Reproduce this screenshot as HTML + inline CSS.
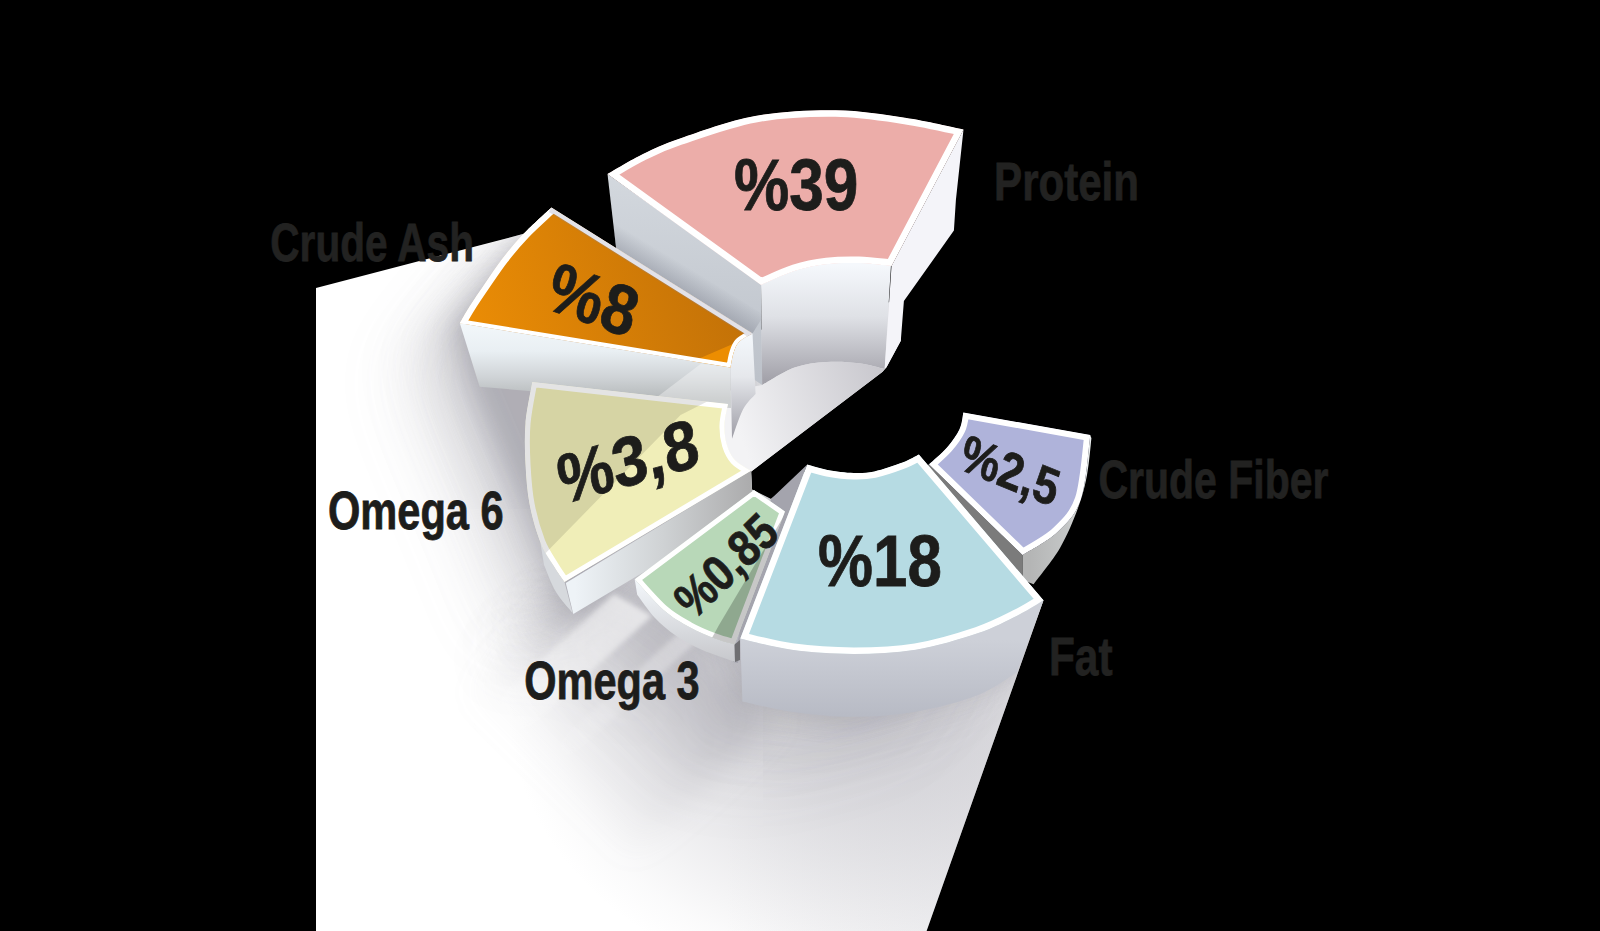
<!DOCTYPE html>
<html><head><meta charset="utf-8"><style>html,body{margin:0;padding:0;background:#000;overflow:hidden}svg{display:block}</style></head>
<body><svg width="1600" height="931" viewBox="0 0 1600 931"><defs><linearGradient id="g_bd" gradientUnits="userSpaceOnUse" x1="316" y1="0" x2="1000" y2="0"><stop offset="0" stop-color="#ffffff"/><stop offset="0.6" stop-color="#ffffff"/><stop offset="1" stop-color="#f0f0f2"/></linearGradient><clipPath id="c_bd"><path d="M316 288 L523.7 233.8 L560 240 L700 330 L760 330 L900 300 L900.8 340.8 L886.5 367.3 L882.6 371.8 L751.2 471.5 L752 489.5 L771 499 L807 470 L900 520 L1020 590 L1043.5 600.3 L926.6 931 L316 931 Z"/></clipPath><filter id="blur1" x="-50%" y="-50%" width="200%" height="200%"><feGaussianBlur stdDeviation="38"/></filter><filter id="blur2" x="-50%" y="-50%" width="200%" height="200%"><feGaussianBlur stdDeviation="12"/></filter><filter id="sr0" x="-50%" y="-50%" width="200%" height="200%"><feGaussianBlur stdDeviation="10"/></filter><filter id="sr1" x="-50%" y="-50%" width="200%" height="200%"><feGaussianBlur stdDeviation="15"/></filter><filter id="sr2" x="-50%" y="-50%" width="200%" height="200%"><feGaussianBlur stdDeviation="20"/></filter><filter id="sr3" x="-50%" y="-50%" width="200%" height="200%"><feGaussianBlur stdDeviation="25"/></filter><filter id="sr4" x="-50%" y="-50%" width="200%" height="200%"><feGaussianBlur stdDeviation="30"/></filter><filter id="sr5" x="-50%" y="-50%" width="200%" height="200%"><feGaussianBlur stdDeviation="35"/></filter><filter id="sr6" x="-50%" y="-50%" width="200%" height="200%"><feGaussianBlur stdDeviation="40"/></filter><filter id="sl0" x="-50%" y="-50%" width="200%" height="200%"><feGaussianBlur stdDeviation="9"/></filter><filter id="sl1" x="-50%" y="-50%" width="200%" height="200%"><feGaussianBlur stdDeviation="14"/></filter><filter id="sl2" x="-50%" y="-50%" width="200%" height="200%"><feGaussianBlur stdDeviation="19"/></filter><filter id="sl3" x="-50%" y="-50%" width="200%" height="200%"><feGaussianBlur stdDeviation="24"/></filter><filter id="sl4" x="-50%" y="-50%" width="200%" height="200%"><feGaussianBlur stdDeviation="29"/></filter><filter id="sl5" x="-50%" y="-50%" width="200%" height="200%"><feGaussianBlur stdDeviation="34"/></filter><filter id="sbb0" x="-50%" y="-50%" width="200%" height="200%"><feGaussianBlur stdDeviation="8"/></filter><filter id="sbb1" x="-50%" y="-50%" width="200%" height="200%"><feGaussianBlur stdDeviation="12"/></filter><filter id="sbb2" x="-50%" y="-50%" width="200%" height="200%"><feGaussianBlur stdDeviation="16"/></filter><filter id="sbb3" x="-50%" y="-50%" width="200%" height="200%"><feGaussianBlur stdDeviation="20"/></filter><filter id="sbb4" x="-50%" y="-50%" width="200%" height="200%"><feGaussianBlur stdDeviation="24"/></filter><filter id="sbb5" x="-50%" y="-50%" width="200%" height="200%"><feGaussianBlur stdDeviation="28"/></filter><filter id="sbb6" x="-50%" y="-50%" width="200%" height="200%"><feGaussianBlur stdDeviation="32"/></filter><radialGradient id="rg1" gradientUnits="userSpaceOnUse" cx="870" cy="705" r="290" gradientTransform="translate(870 705) scale(1.25 1) translate(-870 -705)"><stop offset="0" stop-color="#bebdc4" stop-opacity="0.72"/><stop offset="0.35" stop-color="#bebdc4" stop-opacity="0.5"/><stop offset="0.52" stop-color="#bebdc4" stop-opacity="0.37"/><stop offset="0.69" stop-color="#bebdc4" stop-opacity="0.23"/><stop offset="0.88" stop-color="#bebdc4" stop-opacity="0.07"/><stop offset="1" stop-color="#bebdc4" stop-opacity="0"/></radialGradient><linearGradient id="g_cone" gradientUnits="userSpaceOnUse" x1="660" y1="655" x2="540" y2="775"><stop offset="0" stop-color="#a9a8b0" stop-opacity="0.45"/><stop offset="0.5" stop-color="#b5b4bb" stop-opacity="0.2"/><stop offset="1" stop-color="#c0c0c6" stop-opacity="0"/></linearGradient><filter id="bcone" x="-50%" y="-50%" width="200%" height="200%"><feGaussianBlur stdDeviation="14"/></filter><linearGradient id="g_ray1" gradientUnits="userSpaceOnUse" x1="633" y1="605" x2="485" y2="739"><stop offset="0" stop-color="#ffffff" stop-opacity="0.6"/><stop offset="0.6" stop-color="#ffffff" stop-opacity="0.25"/><stop offset="1" stop-color="#ffffff" stop-opacity="0"/></linearGradient><linearGradient id="g_ray2" gradientUnits="userSpaceOnUse" x1="690" y1="635" x2="542" y2="769"><stop offset="0" stop-color="#ffffff" stop-opacity="0.35"/><stop offset="1" stop-color="#ffffff" stop-opacity="0"/></linearGradient><filter id="bray" x="-50%" y="-50%" width="200%" height="200%"><feGaussianBlur stdDeviation="2.5"/></filter><linearGradient id="g_pl" gradientUnits="userSpaceOnUse" x1="0" y1="174" x2="0" y2="385"><stop offset="0" stop-color="#d3d8de"/><stop offset="1" stop-color="#bcc1c9"/></linearGradient><clipPath id="c_pl"><path d="M607.5 174 L761 283 L762.2 385 L621 290 Z"/></clipPath><linearGradient id="g_plsh" gradientUnits="userSpaceOnUse" x1="650" y1="269.3" x2="661" y2="251"><stop offset="0" stop-color="#858995" stop-opacity="0.45"/><stop offset="1" stop-color="#858995" stop-opacity="0"/></linearGradient><linearGradient id="g_pi" gradientUnits="userSpaceOnUse" x1="0" y1="265" x2="0" y2="380"><stop offset="0" stop-color="#f5f8fc"/><stop offset="0.45" stop-color="#dfe1e6"/><stop offset="1" stop-color="#a3a2aa"/></linearGradient><clipPath id="c_prot"><path d="M607.5 174 C613.4 170.7 630.9 159.9 643 154 C655.1 148.1 661.3 144.7 680 138.4 C698.7 132.1 729.1 120.7 755 116 C780.9 111.3 810.6 110 835.6 110.3 C860.6 110.6 883.7 114.6 905 117.8 C926.3 121 953.8 127.5 963.5 129.5 L891.5 266 C886.1 265.5 869.7 263.3 858.9 263 C848.1 262.7 837.4 262.9 826.7 264.2 C816 265.5 805.5 267.5 794.5 271 C783.5 274.5 766.6 282.7 761 285 Z"/></clipPath><linearGradient id="g_fl" gradientUnits="userSpaceOnUse" x1="735" y1="420" x2="880" y2="370"><stop offset="0" stop-color="#f3f3f5"/><stop offset="1" stop-color="#c9c8ce"/></linearGradient><linearGradient id="g_cfo" gradientUnits="userSpaceOnUse" x1="1030" y1="0" x2="1092" y2="0"><stop offset="0" stop-color="#b4b5b5"/><stop offset="0.6" stop-color="#c4c6c6"/><stop offset="1" stop-color="#eef2f2"/></linearGradient><clipPath id="c_cf"><path d="M963.3 412.4 L1090.3 435 C1088.7 445.7 1086.4 483 1080.9 499.2 C1075.4 515.4 1066.9 523 1057.2 532.3 C1047.5 541.6 1028.4 551.2 1022.6 555 L929 464.3 C932 461.5 941.9 453.2 947 447.4 C952.1 441.6 956.8 435.1 959.5 429.3 C962.2 423.5 962.7 415.2 963.3 412.4 Z"/></clipPath><linearGradient id="g_of" gradientUnits="userSpaceOnUse" x1="0" y1="325" x2="0" y2="400"><stop offset="0" stop-color="#f2f7fa"/><stop offset="0.35" stop-color="#e9eff3"/><stop offset="0.7" stop-color="#cfd3d6"/><stop offset="1" stop-color="#b3b7b8"/></linearGradient><clipPath id="c_of"><path d="M459.8 323.3 L730.5 367.5 L731 408 L479.7 386.8 Z"/></clipPath><linearGradient id="g_oi" gradientUnits="userSpaceOnUse" x1="0" y1="334" x2="0" y2="440"><stop offset="0" stop-color="#f4f8fc"/><stop offset="0.4" stop-color="#e6e8ec"/><stop offset="1" stop-color="#9c9ba4"/></linearGradient><linearGradient id="g_ot" gradientUnits="userSpaceOnUse" x1="470" y1="320" x2="740" y2="230"><stop offset="0" stop-color="#ea8c05"/><stop offset="1" stop-color="#bf6f08"/></linearGradient><clipPath id="c_or"><path d="M551.5 207.5 L752.5 333.5 C750.2 334.9 742.2 338.8 739 342 C735.8 345.2 734.9 348.8 733.5 353 C732.1 357.2 731 365.1 730.5 367.5 L459.8 323.3 C461.4 320.6 465.4 313.3 469.5 306.8 C473.6 300.3 479.1 292.2 484.6 284.2 C490.1 276.2 496.1 267 502.6 258.6 C509.1 250.2 515.6 242.3 523.7 233.8 C531.9 225.3 546.9 211.9 551.5 207.5 Z"/></clipPath><linearGradient id="g_ys" gradientUnits="userSpaceOnUse" x1="575" y1="0" x2="750" y2="0"><stop offset="0" stop-color="#eef3f7"/><stop offset="0.5" stop-color="#cfd2d4"/><stop offset="1" stop-color="#acacad"/></linearGradient><clipPath id="c_ye"><path d="M532.3 382.1 L728 404 C727.4 407.5 724.7 418.2 724.5 425 C724.3 431.8 725.2 439.2 727 445 C728.8 450.8 731 455.7 735 460 C739 464.3 748.2 469 750.9 470.8 L564.5 582 C562.7 579.3 557.8 572.7 553.8 566 C549.8 559.3 544.3 552.2 540.3 541.9 C536.3 531.6 532.1 517.3 529.6 504.3 C527.1 491.3 526.2 477.4 525.5 464 C524.8 450.6 524.4 437.3 525.5 423.7 C526.6 410.1 531.2 389 532.3 382.1 Z"/></clipPath><linearGradient id="g_gs" gradientUnits="userSpaceOnUse" x1="0" y1="580" x2="0" y2="662"><stop offset="0" stop-color="#f3f7fb"/><stop offset="1" stop-color="#c7c8cc"/></linearGradient><clipPath id="c_gr"><path d="M754 490 L785 511.4 L734.5 644.4 C731.3 643.4 722.7 641.4 715.2 638.5 C707.7 635.6 698 631.8 689.4 627 C680.8 622.2 672.7 618 663.6 610 C654.5 602 639.5 584.4 634.7 579.3 Z"/></clipPath><linearGradient id="g_fs" gradientUnits="userSpaceOnUse" x1="0" y1="640" x2="0" y2="715"><stop offset="0" stop-color="#cdd0d8"/><stop offset="1" stop-color="#b8bbc5"/></linearGradient><clipPath id="c_fat"><path d="M807.3 464.6 C810.7 465.5 819.8 468.6 827.5 470 C835.2 471.4 845.9 472.8 853.8 473 C861.6 473.2 866.3 473.1 874.4 471.4 C882.5 469.6 895.1 465.3 902.5 462.5 C909.9 459.7 916.2 455.8 918.9 454.5 L1043.5 600.3 C1039.4 602.7 1029.8 609.2 1018.8 614.8 C1007.8 620.2 994.7 627.5 977.5 633.3 C960.3 639.1 936.2 646.4 915.6 649.8 C895 653.2 874.4 653.9 853.8 653.9 C833.1 653.9 810.8 652.4 791.9 649.8 C773 647.2 748.9 640.4 740.3 638.5 Z"/></clipPath></defs><rect width="1600" height="931" fill="#000"/>
<path d="M316 288 L523.7 233.8 L560 240 L700 330 L760 330 L900 300 L900.8 340.8 L886.5 367.3 L882.6 371.8 L751.2 471.5 L752 489.5 L771 499 L807 470 L900 520 L1020 590 L1043.5 600.3 L926.6 931 L316 931 Z" fill="url(#g_bd)"/>
<g clip-path="url(#c_bd)"><rect x="316" y="300" width="800" height="631" fill="url(#rg1)"/><path d="M634 579 L755 497 L807 464 L919 455 L963 412 L1090 435 L1044 600 L1017 672 L854 717 L742 701 L735 662 L637 595 Z" fill="#8f8e98" opacity="0.070" filter="url(#sr0)" transform="translate(0,0)"/><path d="M634 579 L755 497 L807 464 L919 455 L963 412 L1090 435 L1044 600 L1017 672 L854 717 L742 701 L735 662 L637 595 Z" fill="#8f8e98" opacity="0.061" filter="url(#sr1)" transform="translate(-16,15)"/><path d="M634 579 L755 497 L807 464 L919 455 L963 412 L1090 435 L1044 600 L1017 672 L854 717 L742 701 L735 662 L637 595 Z" fill="#8f8e98" opacity="0.053" filter="url(#sr2)" transform="translate(-32,30)"/><path d="M634 579 L755 497 L807 464 L919 455 L963 412 L1090 435 L1044 600 L1017 672 L854 717 L742 701 L735 662 L637 595 Z" fill="#8f8e98" opacity="0.044" filter="url(#sr3)" transform="translate(-48,45)"/><path d="M634 579 L755 497 L807 464 L919 455 L963 412 L1090 435 L1044 600 L1017 672 L854 717 L742 701 L735 662 L637 595 Z" fill="#8f8e98" opacity="0.035" filter="url(#sr4)" transform="translate(-64,60)"/><path d="M634 579 L755 497 L807 464 L919 455 L963 412 L1090 435 L1044 600 L1017 672 L854 717 L742 701 L735 662 L637 595 Z" fill="#8f8e98" opacity="0.026" filter="url(#sr5)" transform="translate(-80,75)"/><path d="M634 579 L755 497 L807 464 L919 455 L963 412 L1090 435 L1044 600 L1017 672 L854 717 L742 701 L735 662 L637 595 Z" fill="#8f8e98" opacity="0.018" filter="url(#sr6)" transform="translate(-96,90)"/><path d="M460 323 L552 208 L607 174 L835 110 L963 130 L954 230 L886 368 L920 455 L963 412 L1090 435 L1044 600 L1017 672 L854 717 L742 701 L735 662 L637 595 L573 613 L530 504 L480 387 Z" fill="#9a99a3" opacity="0.30" filter="url(#blur2)" transform="translate(-6,5)"/><path d="M460 323 L552 208 L752 334 L755 394 L751 471 L573 613 L530 504 L480 387 Z" fill="#8f8e98" opacity="0.200" filter="url(#sl0)" transform="translate(0,0)"/><path d="M460 323 L552 208 L752 334 L755 394 L751 471 L573 613 L530 504 L480 387 Z" fill="#8f8e98" opacity="0.171" filter="url(#sl1)" transform="translate(-15,9)"/><path d="M460 323 L552 208 L752 334 L755 394 L751 471 L573 613 L530 504 L480 387 Z" fill="#8f8e98" opacity="0.143" filter="url(#sl2)" transform="translate(-30,18)"/><path d="M460 323 L552 208 L752 334 L755 394 L751 471 L573 613 L530 504 L480 387 Z" fill="#8f8e98" opacity="0.114" filter="url(#sl3)" transform="translate(-45,27)"/><path d="M460 323 L552 208 L752 334 L755 394 L751 471 L573 613 L530 504 L480 387 Z" fill="#8f8e98" opacity="0.086" filter="url(#sl4)" transform="translate(-60,36)"/><path d="M460 323 L552 208 L752 334 L755 394 L751 471 L573 613 L530 504 L480 387 Z" fill="#8f8e98" opacity="0.057" filter="url(#sl5)" transform="translate(-75,45)"/><path d="M555 560 L566 583 L573 614 L636 592 L735 662 L742 701 L760 705 L700 600 L600 560 Z" fill="#8f8e98" opacity="0.130" filter="url(#sbb0)" transform="translate(0,0)"/><path d="M555 560 L566 583 L573 614 L636 592 L735 662 L742 701 L760 705 L700 600 L600 560 Z" fill="#8f8e98" opacity="0.114" filter="url(#sbb1)" transform="translate(-14,13)"/><path d="M555 560 L566 583 L573 614 L636 592 L735 662 L742 701 L760 705 L700 600 L600 560 Z" fill="#8f8e98" opacity="0.098" filter="url(#sbb2)" transform="translate(-28,26)"/><path d="M555 560 L566 583 L573 614 L636 592 L735 662 L742 701 L760 705 L700 600 L600 560 Z" fill="#8f8e98" opacity="0.081" filter="url(#sbb3)" transform="translate(-42,39)"/><path d="M555 560 L566 583 L573 614 L636 592 L735 662 L742 701 L760 705 L700 600 L600 560 Z" fill="#8f8e98" opacity="0.065" filter="url(#sbb4)" transform="translate(-56,52)"/><path d="M555 560 L566 583 L573 614 L636 592 L735 662 L742 701 L760 705 L700 600 L600 560 Z" fill="#8f8e98" opacity="0.049" filter="url(#sbb5)" transform="translate(-70,65)"/><path d="M555 560 L566 583 L573 614 L636 592 L735 662 L742 701 L760 705 L700 600 L600 560 Z" fill="#8f8e98" opacity="0.033" filter="url(#sbb6)" transform="translate(-84,78)"/><path d="M560 600 L637 592 L745 690 L775 720 L600 890 L395 770 Z" fill="url(#g_cone)" filter="url(#bcone)"/><g filter="url(#bray)"><path d="M614 594 L652 616 L504 750 L466 728 Z" fill="url(#g_ray1)"/><path d="M684 628 L696 642 L548 777 L536 763 Z" fill="url(#g_ray2)"/></g></g>
<path d="M607.5 174 L761 283 L762.2 385 L621 290 Z" fill="url(#g_pl)"/>
<g clip-path="url(#c_pl)"><path d="M551.5 207.5 L752.5 333.5 L764 315 L563 189 Z" fill="url(#g_plsh)"/></g>
<path d="M761 283 C766.6 280.5 783.5 271.5 794.5 268 C805.5 264.5 816 263.2 826.7 262 C837.4 260.8 848.2 260.5 858.9 261 C869.6 261.5 885.6 264.3 891 265 L884.7 369 C880.4 368 868.6 364.4 858.9 363.2 C849.2 362 837.4 361.3 826.7 362 C816 362.7 805.2 363.7 794.5 367.5 C783.8 371.3 767.6 382.1 762.2 385 Z" fill="url(#g_pi)"/>
<path d="M963.5 129.5 L955.9 200 L953.9 230.6 L903.9 301 L900.8 340.8 L886.5 367.3 L884.7 369 L891.5 266 Z" fill="#f4f4f9"/>
<g clip-path="url(#c_prot)"><path d="M607.5 174 C613.4 170.7 630.9 159.9 643 154 C655.1 148.1 661.3 144.7 680 138.4 C698.7 132.1 729.1 120.7 755 116 C780.9 111.3 810.6 110 835.6 110.3 C860.6 110.6 883.7 114.6 905 117.8 C926.3 121 953.8 127.5 963.5 129.5 L891.5 266 C886.1 265.5 869.7 263.3 858.9 263 C848.1 262.7 837.4 262.9 826.7 264.2 C816 265.5 805.5 267.5 794.5 271 C783.5 274.5 766.6 282.7 761 285 Z" fill="#ecada9"/><path d="M607.5 174 C613.4 170.7 630.9 159.9 643 154 C655.1 148.1 661.3 144.7 680 138.4 C698.7 132.1 729.1 120.7 755 116 C780.9 111.3 810.6 110 835.6 110.3 C860.6 110.6 883.7 114.6 905 117.8 C926.3 121 953.8 127.5 963.5 129.5 L891.5 266 C886.1 265.5 869.7 263.3 858.9 263 C848.1 262.7 837.4 262.9 826.7 264.2 C816 265.5 805.5 267.5 794.5 271 C783.5 274.5 766.6 282.7 761 285 Z" fill="none" stroke="#fff" stroke-width="13.0" stroke-linejoin="round"/></g>
<path d="M762.2 385 C767.6 382.1 783.8 371.3 794.5 367.5 C805.2 363.7 816 362.7 826.7 362 C837.4 361.3 849.2 362 858.9 363.2 C868.6 364.4 880.4 368 884.7 369 L882.6 371.8 L751.2 471.5 L700 470 L700 395 L735 390 Z" fill="url(#g_fl)"/>
<path d="M929 464.3 L1022.6 555 L1022.6 580 L1000 585 L920 470 Z" fill="#7b7b7b"/>
<path d="M1090.3 435 L1091.4 438.3 C1090.7 444.4 1089.2 463.3 1087 475 C1084.8 486.7 1082.4 496.1 1077.9 508.3 C1073.4 520.5 1067.4 535.3 1060 548 C1052.6 560.7 1038 578.2 1033.6 584.3 L1022.6 580 L1022.6 555 C1028.4 551.2 1047.5 541.6 1057.2 532.3 C1066.9 523 1075.4 515.4 1080.9 499.2 C1086.4 483 1088.7 445.7 1090.3 435 Z" fill="url(#g_cfo)"/>
<g clip-path="url(#c_cf)"><path d="M963.3 412.4 L1090.3 435 C1088.7 445.7 1086.4 483 1080.9 499.2 C1075.4 515.4 1066.9 523 1057.2 532.3 C1047.5 541.6 1028.4 551.2 1022.6 555 L929 464.3 C932 461.5 941.9 453.2 947 447.4 C952.1 441.6 956.8 435.1 959.5 429.3 C962.2 423.5 962.7 415.2 963.3 412.4 Z" fill="#afb3da"/><path d="M963.3 412.4 L1090.3 435 C1088.7 445.7 1086.4 483 1080.9 499.2 C1075.4 515.4 1066.9 523 1057.2 532.3 C1047.5 541.6 1028.4 551.2 1022.6 555 L929 464.3 C932 461.5 941.9 453.2 947 447.4 C952.1 441.6 956.8 435.1 959.5 429.3 C962.2 423.5 962.7 415.2 963.3 412.4 Z" fill="none" stroke="#fff" stroke-width="12" stroke-linejoin="round"/></g>
<path d="M459.8 323.3 L730.5 367.5 L731 408 L479.7 386.8 Z" fill="url(#g_of)"/>
<g clip-path="url(#c_of)"><path d="M700.9 363.7 L740 368 L740 410 L640 410 Z" fill="#ffffff" opacity="0.35"/></g>
<path d="M752.5 333.5 C750.2 334.9 742.2 338.8 739 342 C735.8 345.2 734.9 348.8 733.5 353 C732.1 357.2 731 365.1 730.5 367.5 L732 438.7 C733.8 433.8 739.1 416.8 743 409.4 C746.9 401.9 753.5 396.6 755.6 394 Z" fill="url(#g_oi)"/>
<g clip-path="url(#c_or)"><path d="M551.5 207.5 L752.5 333.5 C750.2 334.9 742.2 338.8 739 342 C735.8 345.2 734.9 348.8 733.5 353 C732.1 357.2 731 365.1 730.5 367.5 L459.8 323.3 C461.4 320.6 465.4 313.3 469.5 306.8 C473.6 300.3 479.1 292.2 484.6 284.2 C490.1 276.2 496.1 267 502.6 258.6 C509.1 250.2 515.6 242.3 523.7 233.8 C531.9 225.3 546.9 211.9 551.5 207.5 Z" fill="url(#g_ot)"/><path d="M682 366 L758 333 L770 330 L770 380 Z" fill="#f29200" opacity="0.85"/><path d="M459.8 323.3 C461.4 320.6 465.4 313.3 469.5 306.8 C473.6 300.3 479.1 292.2 484.6 284.2 C490.1 276.2 496.1 267 502.6 258.6 C509.1 250.2 515.6 242.3 523.7 233.8 C531.9 225.3 546.9 211.9 551.5 207.5" fill="none" stroke="#fff" stroke-width="12"/><path d="M551.5 207.5 L752.5 333.5 C750.2 334.9 742.2 338.8 739 342 C735.8 345.2 734.9 348.8 733.5 353 C732.1 357.2 731 365.1 730.5 367.5 L459.8 323.3 C461.4 320.6 465.4 313.3 469.5 306.8 C473.6 300.3 479.1 292.2 484.6 284.2 C490.1 276.2 496.1 267 502.6 258.6 C509.1 250.2 515.6 242.3 523.7 233.8 C531.9 225.3 546.9 211.9 551.5 207.5 Z" fill="none" stroke="#fff" stroke-width="8.4" stroke-linejoin="round"/></g>
<g clip-path="url(#c_or)"><path d="M551.5 207.5 L752.5 333.5 L749.8 338 L548.8 212 Z" fill="#8a8aa8" opacity="0.25"/></g>
<path d="M750.9 470.8 L565.8 583 L573.3 614.1 L753 507 Z" fill="url(#g_ys)"/>
<path d="M540.3 541.9 C542.5 545.9 549.8 559.3 553.8 566 C557.8 572.7 562.7 579.3 564.5 582 L572.6 613 C569.8 609.5 560.8 600 556 592 C551.2 584 546 569.5 544 565 Z" fill="#d6d9dd"/>
<g clip-path="url(#c_ye)"><path d="M532.3 382.1 L728 404 C727.4 407.5 724.7 418.2 724.5 425 C724.3 431.8 725.2 439.2 727 445 C728.8 450.8 731 455.7 735 460 C739 464.3 748.2 469 750.9 470.8 L564.5 582 C562.7 579.3 557.8 572.7 553.8 566 C549.8 559.3 544.3 552.2 540.3 541.9 C536.3 531.6 532.1 517.3 529.6 504.3 C527.1 491.3 526.2 477.4 525.5 464 C524.8 450.6 524.4 437.3 525.5 423.7 C526.6 410.1 531.2 389 532.3 382.1 Z" fill="#f0eeb8"/><path d="M532.3 382.1 L728 404 C727.4 407.5 724.7 418.2 724.5 425 C724.3 431.8 725.2 439.2 727 445 C728.8 450.8 731 455.7 735 460 C739 464.3 748.2 469 750.9 470.8 L564.5 582 C562.7 579.3 557.8 572.7 553.8 566 C549.8 559.3 544.3 552.2 540.3 541.9 C536.3 531.6 532.1 517.3 529.6 504.3 C527.1 491.3 526.2 477.4 525.5 464 C524.8 450.6 524.4 437.3 525.5 423.7 C526.6 410.1 531.2 389 532.3 382.1 Z" fill="none" stroke="#fff" stroke-width="10" stroke-linejoin="round"/></g>
<g clip-path="url(#c_ye)"><path d="M500 370 L740 370 L740 385 L680.6 415 L551.6 547 L520 580 L500 580 Z" fill="#000" opacity="0.105"/></g>
<path d="M771 499 L807.3 464.6 L740.3 638.5 L738 663 L733 662 L760 540 Z" fill="#a4a4ad"/>
<path d="M634.7 579.3 C639.5 584.4 654.5 602 663.6 610 C672.7 618 680.8 622.2 689.4 627 C698 631.8 707.7 635.6 715.2 638.5 C722.7 641.4 731.3 643.4 734.5 644.4 L735 661.8 C729.5 659.8 712 654.3 702.3 650 C692.5 645.7 684.4 641.3 676.5 636 C668.6 630.7 661.5 624.9 655 618 C648.5 611.1 640.2 598.7 637.2 594.8 Z" fill="url(#g_gs)"/>
<path d="M734.5 644.4 L740 640 L740 660 L735 662 Z" fill="#6f6f72"/>
<g clip-path="url(#c_gr)"><path d="M754 490 L785 511.4 L734.5 644.4 C731.3 643.4 722.7 641.4 715.2 638.5 C707.7 635.6 698 631.8 689.4 627 C680.8 622.2 672.7 618 663.6 610 C654.5 602 639.5 584.4 634.7 579.3 Z" fill="#b8d8b8"/><path d="M754 490 L785 511.4 L734.5 644.4 C731.3 643.4 722.7 641.4 715.2 638.5 C707.7 635.6 698 631.8 689.4 627 C680.8 622.2 672.7 618 663.6 610 C654.5 602 639.5 584.4 634.7 579.3 Z" fill="none" stroke="#fff" stroke-width="10" stroke-linejoin="round"/></g>
<g clip-path="url(#c_gr)"><path d="M719 625 L785 514 L800 500 L800 660 L700 660 Z" fill="#000" opacity="0.22"/></g>
<path d="M740.3 638.5 C748.9 640.4 773 647.2 791.9 649.8 C810.8 652.4 833.1 653.9 853.8 653.9 C874.4 653.9 895 653.2 915.6 649.8 C936.2 646.4 960.3 639.1 977.5 633.3 C994.7 627.5 1007.8 620.2 1018.8 614.8 C1029.8 609.2 1039.4 602.7 1043.5 600.3 L1016.7 672.5 C1010.2 676.3 994.4 688.7 977.5 695.2 C960.6 701.7 936.2 708.1 915.6 711.7 C895 715.3 874.4 716.8 853.8 716.8 C833.1 716.8 810.5 714.3 791.9 711.7 C773.3 709.1 750.6 703.1 742.4 701.4 Z" fill="url(#g_fs)"/>
<g clip-path="url(#c_fat)"><path d="M807.3 464.6 C810.7 465.5 819.8 468.6 827.5 470 C835.2 471.4 845.9 472.8 853.8 473 C861.6 473.2 866.3 473.1 874.4 471.4 C882.5 469.6 895.1 465.3 902.5 462.5 C909.9 459.7 916.2 455.8 918.9 454.5 L1043.5 600.3 C1039.4 602.7 1029.8 609.2 1018.8 614.8 C1007.8 620.2 994.7 627.5 977.5 633.3 C960.3 639.1 936.2 646.4 915.6 649.8 C895 653.2 874.4 653.9 853.8 653.9 C833.1 653.9 810.8 652.4 791.9 649.8 C773 647.2 748.9 640.4 740.3 638.5 Z" fill="#b6dbe3"/><path d="M807.3 464.6 C810.7 465.5 819.8 468.6 827.5 470 C835.2 471.4 845.9 472.8 853.8 473 C861.6 473.2 866.3 473.1 874.4 471.4 C882.5 469.6 895.1 465.3 902.5 462.5 C909.9 459.7 916.2 455.8 918.9 454.5 L1043.5 600.3 C1039.4 602.7 1029.8 609.2 1018.8 614.8 C1007.8 620.2 994.7 627.5 977.5 633.3 C960.3 639.1 936.2 646.4 915.6 649.8 C895 653.2 874.4 653.9 853.8 653.9 C833.1 653.9 810.8 652.4 791.9 649.8 C773 647.2 748.9 640.4 740.3 638.5 Z" fill="none" stroke="#fff" stroke-width="13.0" stroke-linejoin="round"/></g>
<text transform="matrix(0.7588 0 0 1 270.29 261.00)" font-family="&apos;Liberation Sans&apos;, sans-serif" font-weight="bold" font-size="53.5" fill="#222221" stroke="#222221" stroke-width="0.8">Crude Ash</text>
<text transform="matrix(0.7863 0 0 1 994.12 199.50)" font-family="&apos;Liberation Sans&apos;, sans-serif" font-weight="bold" font-size="53.5" fill="#222221" stroke="#222221" stroke-width="0.8">Protein</text>
<text transform="matrix(0.7660 0 0 1 1098.48 497.70)" font-family="&apos;Liberation Sans&apos;, sans-serif" font-weight="bold" font-size="53.5" fill="#222221" stroke="#222221" stroke-width="0.8">Crude Fiber</text>
<text transform="matrix(0.7777 0 0 1 328.00 528.75)" font-family="&apos;Liberation Sans&apos;, sans-serif" font-weight="bold" font-size="53.5" fill="#1d1d1b" stroke="#1d1d1b" stroke-width="0.8">Omega 6</text>
<text transform="matrix(0.7759 0 0 1 524.26 698.75)" font-family="&apos;Liberation Sans&apos;, sans-serif" font-weight="bold" font-size="53.5" fill="#1d1d1b" stroke="#1d1d1b" stroke-width="0.8">Omega 3</text>
<text transform="matrix(0.7913 0 0 1 1049.01 674.90)" font-family="&apos;Liberation Sans&apos;, sans-serif" font-weight="bold" font-size="53.5" fill="#222221" stroke="#222221" stroke-width="0.8">Fat</text>
<text transform="matrix(0.8514 0 0 1 734.01 210.00)" font-family="&apos;Liberation Sans&apos;, sans-serif" font-weight="bold" font-size="73" fill="#1d1d1b" stroke="#1d1d1b" stroke-width="0.8">%39</text>
<text transform="matrix(0.8474 0 0 1 818.02 585.50)" font-family="&apos;Liberation Sans&apos;, sans-serif" font-weight="bold" font-size="73" fill="#1d1d1b" stroke="#1d1d1b" stroke-width="0.8">%18</text>
<text transform="matrix(0.8489 0.2989 -0.2924 0.9563 543.36 307.87)" font-family="&apos;Liberation Sans&apos;, sans-serif" font-weight="bold" font-size="70" fill="#1d1d1b" stroke="#1d1d1b" stroke-width="0.8">%8</text>
<text transform="matrix(0.8818 -0.2479 0.1736 0.9848 562.54 504.46)" font-family="&apos;Liberation Sans&apos;, sans-serif" font-weight="bold" font-size="69.3" fill="#1d1d1b" stroke="#1d1d1b" stroke-width="0.8">%3,8</text>
<text transform="matrix(0.6186 -0.5974 0.6691 0.7431 693.76 620.72)" font-family="&apos;Liberation Sans&apos;, sans-serif" font-weight="bold" font-size="50" fill="#1d1d1b" stroke="#1d1d1b" stroke-width="0.8">%0,85</text>
<text transform="matrix(0.8066 0.3259 -0.2756 0.9613 957.49 468.59)" font-family="&apos;Liberation Sans&apos;, sans-serif" font-weight="bold" font-size="52" fill="#1d1d1b" stroke="#1d1d1b" stroke-width="0.8">%2,5</text></svg></body></html>
